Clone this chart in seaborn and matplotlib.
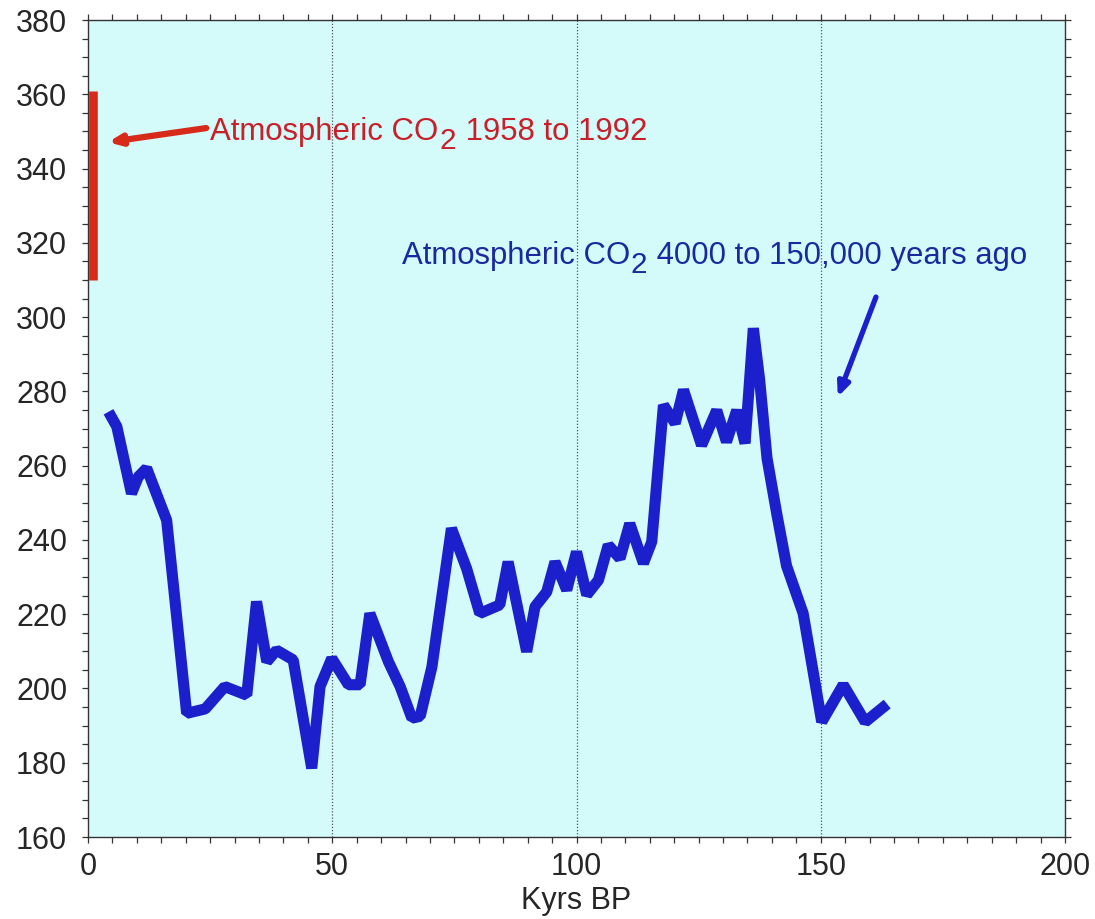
import numpy as np
import pandas as pd
import matplotlib
matplotlib.use("Agg")
import matplotlib.pyplot as plt
from matplotlib.ticker import MultipleLocator
import seaborn as sns

# ---- data ----
kyrs_bp = [4.2, 5.9, 8.9, 10.3, 12.0, 16.1, 20.2, 24.0, 28.0, 32.5, 34.5, 36.6,
           38.6, 42.0, 45.8, 47.5, 49.9, 53.3, 55.7, 57.7, 61.5, 63.9, 66.3,
           68.0, 70.4, 74.4, 77.5, 80.2, 84.3, 86.0, 89.8, 91.5, 93.9, 95.6,
           98.0, 100.0, 102.1, 104.5, 106.5, 108.9, 110.9, 113.7, 115.4,
           117.8, 120.2, 121.9, 125.6, 128.7, 130.7, 132.8, 134.5, 136.2,
           137.5, 139.0, 141.0, 143.0, 146.4, 150.2, 154.6, 159.1, 163.6]
co2_ppm = [274.5, 270.5, 252.5, 257.0, 259.3, 245.3, 193.3, 194.5, 200.5, 198.2,
           223.4, 207.2, 210.3, 207.7, 178.5, 200.5, 208.1, 201.0, 201.0, 220.2,
           207.2, 200.5, 192.0, 192.5, 205.8, 243.1, 232.3, 220.2, 222.5, 234.1,
           209.9, 222.0, 226.0, 234.1, 226.5, 236.8, 225.2, 229.2, 238.6, 235.0,
           244.4, 233.7, 239.5, 276.3, 271.4, 280.4, 265.5, 274.9, 266.4, 274.9,
           266.0, 297.0, 283.0, 262.0, 247.0, 233.0, 220.2, 191.0, 201.0, 191.0,
           195.8]
modern_x = 1.0
modern_range = [310, 361]
xticks = [0, 50, 100, 150, 200]
yticks = [160, 180, 200, 220, 240, 260, 280, 300, 320, 340, 360, 380]
red_parts = ["Atmospheric CO", "2", " 1958 to 1992"]
blue_parts = ["Atmospheric CO", "2", " 4000 to 150,000 years ago"]
x_title = "Kyrs BP"

df = pd.DataFrame({"kyrs": kyrs_bp, "co2": co2_ppm})

sns.set_style("ticks")
plt.rcParams["font.family"] = ["Liberation Sans", "DejaVu Sans"]

FS = 22
AFS = 22.4
RED_TXT = "#c8202a"
RED = "#d82a1a"
BLUE = "#1c20cc"
BLUE_TXT = "#1a2a9e"

fig = plt.figure(figsize=(10.95, 9.19), dpi=100)
ax = fig.add_axes([88 / 1095, 1 - 837 / 919, (1065 - 88) / 1095, (837 - 20) / 919])
ax.set_facecolor("#d4fafa")

sns.lineplot(data=df, x="kyrs", y="co2", ax=ax, color=BLUE, lw=8,
             estimator=None, sort=False, solid_joinstyle="bevel",
             solid_capstyle="butt")

ax.vlines(modern_x, modern_range[0], modern_range[1], color=RED, lw=6.2)

ax.set_xlim(0, 200)
ax.set_ylim(160, 380)
ax.set_xticks(xticks)
ax.set_yticks(yticks)
ax.xaxis.set_minor_locator(MultipleLocator(5))
ax.yaxis.set_minor_locator(MultipleLocator(5))
ax.tick_params(which="both", direction="out", top=True, right=True,
               length=4, width=0.9, color="#333333")
ax.tick_params(axis="x", which="major", labelsize=FS, pad=7)
ax.tick_params(axis="y", which="major", labelsize=FS, pad=11)
ax.set_xlabel(x_title, fontsize=FS, labelpad=3)
ax.set_ylabel("")
for s in ax.spines.values():
    s.set_linewidth(1.0)
    s.set_color("#333333")

for gx in [50, 100, 150]:
    ax.axvline(gx, color="#555555", lw=0.9, ls=(0, (1, 1.5)), zorder=0.5)


def label_with_sub(x, y, parts, color):
    t1 = ax.text(x, y, parts[0], color=color, fontsize=AFS, ha="left", va="baseline")
    t2 = ax.annotate(parts[1], xy=(1, 0), xycoords=t1, xytext=(0.8, -5.5),
                     textcoords="offset points", color=color, fontsize=AFS - 1,
                     ha="left", va="bottom")
    ax.annotate(parts[2], xy=(1, 0), xycoords=(t2, t1), xytext=(0.5, 0),
                textcoords="offset points", color=color, fontsize=AFS,
                ha="left", va="bottom")
    return t1


label_with_sub(25.0, 347.7, red_parts, RED_TXT)
ax.annotate("", xy=(4.1, 347.1), xytext=(24.2, 350.9),
            arrowprops=dict(arrowstyle="-|>,head_length=0.7,head_width=0.3",
                            color=RED, lw=4.5, shrinkA=0, shrinkB=0))

label_with_sub(64.2, 314.2, blue_parts, BLUE_TXT)
ax.annotate("", xy=(153.5, 278.5), xytext=(161.3, 305.4),
            arrowprops=dict(arrowstyle="-|>,head_length=0.8,head_width=0.35",
                            color=BLUE, lw=3.8, shrinkA=0, shrinkB=0))

fig.savefig("out.png", dpi=100)
